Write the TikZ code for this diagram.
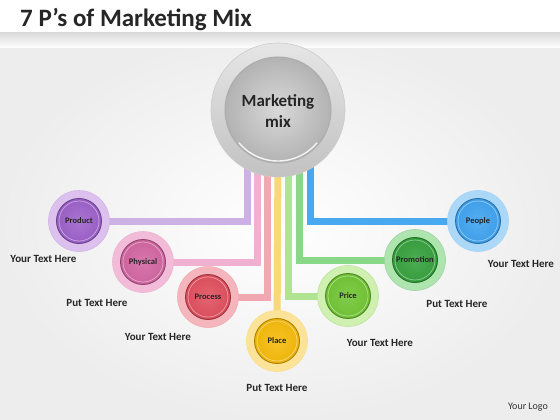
\documentclass[tikz,border=0pt]{standalone}
\usepackage{fontspec}
\setmainfont{Carlito}
\usetikzlibrary{calc}
\definecolor{cPur}{HTML}{9A5BC9}\definecolor{rPur}{HTML}{DCC0EE}\definecolor{lPur}{HTML}{CDB0E6}
\definecolor{cPin}{HTML}{D2609E}\definecolor{rPin}{HTML}{F2BCD9}\definecolor{lPin}{HTML}{F0B0D0}
\definecolor{cRed}{HTML}{E04858}\definecolor{rRed}{HTML}{F5B5BC}\definecolor{lRed}{HTML}{F2A8B0}
\definecolor{cYel}{HTML}{F6B800}\definecolor{rYel}{HTML}{FBE39A}\definecolor{lYel}{HTML}{F8D878}
\definecolor{cLgr}{HTML}{6CC42C}\definecolor{rLgr}{HTML}{CFF0B0}\definecolor{lLgr}{HTML}{B0E490}
\definecolor{cGrn}{HTML}{2E9E36}\definecolor{rGrn}{HTML}{AEE4AE}\definecolor{lGrn}{HTML}{88D888}
\definecolor{cBlu}{HTML}{38A0F0}\definecolor{rBlu}{HTML}{ACD8F8}\definecolor{lBlu}{HTML}{48A8F0}
\tikzset{
  pnode/.style n args={2}{circle, minimum size=61pt, inner sep=0pt,
    fill=#2, draw=#1!45!white, line width=0.6pt,
    font=\fontsize{8.5}{10}\selectfont\bfseries, text=black!85,
    path picture={
      \shade[inner color=#1!85!white, outer color=#1!95!black]
        (path picture bounding box.center) circle (22.5pt);
      \draw[#1!70!black, line width=0.9pt]
        (path picture bounding box.center) circle (22.5pt);
      \draw[white, opacity=0.45, line width=0.7pt]
        (path picture bounding box.center) circle (20pt);
    }},
  conn/.style={line width=7pt},
  note/.style={font=\fontsize{11}{13}\selectfont\bfseries, text=black!85},
}
\begin{document}
\begin{tikzpicture}[x=1pt,y=-1pt]
\useasboundingbox (0,0) rectangle (560,420);
% background
\fill[white] (0,0) rectangle (560,420);
\shade[inner color=white, outer color=gray!14] (0,33) rectangle (560,420);
\shade[top color=gray!28, bottom color=white] (0,33) rectangle (560,48);
\node[anchor=base west, font=\fontsize{25}{30}\selectfont\bfseries, text=black!85, inner sep=0pt] (title) at (20,27) {7 P’s of Marketing Mix};
% stripe start coordinates
\coordinate (s1) at (247,150);
\coordinate (s2) at (257,150);
\coordinate (s3) at (267,150);
\coordinate (s4) at (278,150);
\coordinate (s5) at (288,150);
\coordinate (s6) at (299,150);
\coordinate (s7) at (310,150);
\path
  (79,221) coordinate (pProduct)
  (143,262) coordinate (pPhysical)
  (208,297) coordinate (pProcess)
  (277,341) coordinate (pPlace)
  (348,296) coordinate (pPrice)
  (415,260) coordinate (pPromotion)
  (478,221) coordinate (pPeople);
% connectors
\draw[conn, lPur] (s1) |- (pProduct);
\draw[conn, lPin] (s2) |- (pPhysical);
\draw[conn, lRed] (s3) |- (pProcess);
\draw[conn, lYel] (s4) -- (pPlace);
\draw[conn, lLgr] (s5) |- (pPrice);
\draw[conn, lGrn] (s6) |- (pPromotion);
\draw[conn, lBlu] (s7) |- (pPeople);
% main circle
\node[circle, minimum size=134pt, inner sep=0pt, draw=gray!40, line width=0.6pt,
  top color=gray!20, bottom color=gray!48] (mainring) at (278,110) {};
\shade[inner color=gray!30, outer color=gray!60] (mainring.center) circle (53pt);
\draw[gray!65, line width=1pt] (mainring.center) circle (53pt);
\draw[white, opacity=0.85, line width=1.4pt] ($(mainring.center)+(140:51)$) arc[start angle=140, end angle=40, radius=51];
\node[align=center, font=\fontsize{17}{21}\selectfont\bfseries, text=black!85] (main) at (278,111) {Marketing\\mix};
% p nodes
\node[pnode={cPur}{rPur}] (product) at (pProduct) {Product};
\node[pnode={cPin}{rPin}] (physical) at (pPhysical) {Physical};
\node[pnode={cRed}{rRed}] (process) at (pProcess) {Process};
\node[pnode={cYel}{rYel}] (place) at (pPlace) {Place};
\node[pnode={cLgr}{rLgr}] (price) at (pPrice) {Price};
\node[pnode={cGrn}{rGrn}] (promotion) at (pPromotion) {Promotion};
\node[pnode={cBlu}{rBlu}] (people) at (pPeople) {People};
% notes
\node[note] (n1) at (43.5,259) {Your Text Here};
\node[note] (n2) at (97,303) {Put Text Here};
\node[note] (n3) at (158,337) {Your Text Here};
\node[note] (n4) at (277,388) {Put Text Here};
\node[note] (n5) at (380,343) {Your Text Here};
\node[note] (n6) at (457,304) {Put Text Here};
\node[note] (n7) at (521,264) {Your Text Here};
\node[font=\fontsize{10}{12}\selectfont, text=black!80] (logo) at (528,407) {Your Logo};
\end{tikzpicture}
\end{document}
